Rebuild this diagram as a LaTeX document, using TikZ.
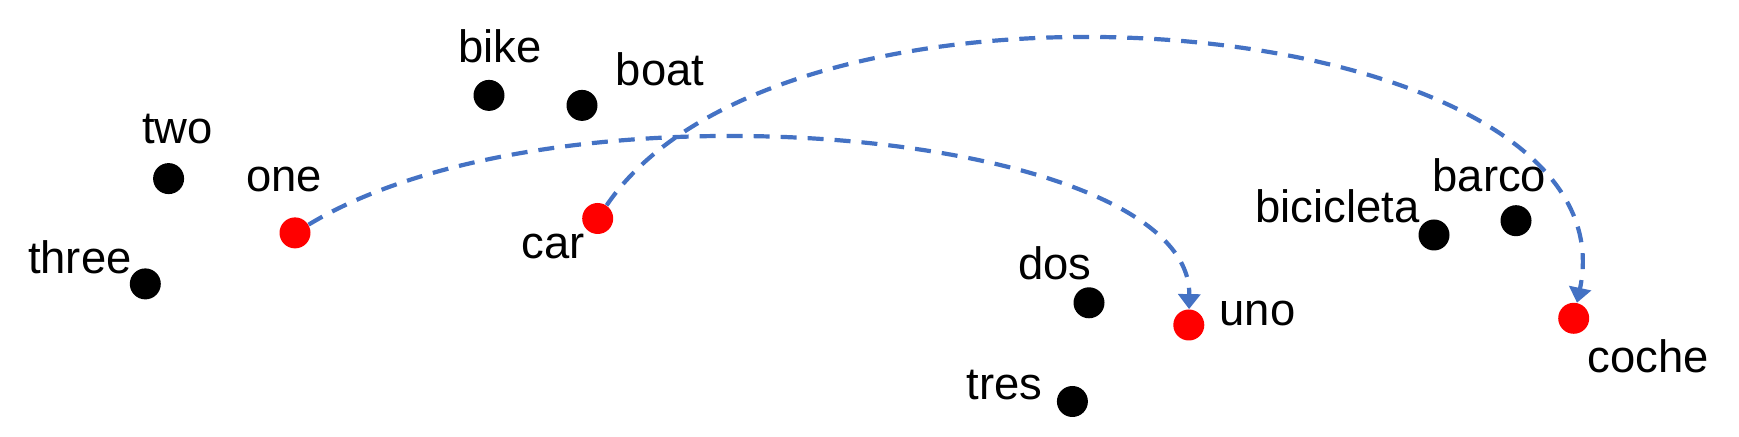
\documentclass[tikz,border=0pt]{standalone}
\usepackage{fontspec}
\setmainfont{Liberation Sans}
\usetikzlibrary{arrows.meta}
\definecolor{linkblue}{HTML}{4472C4}
\definecolor{dotred}{HTML}{FF0000}
\begin{document}
\begin{tikzpicture}[x=0.5pt,y=-0.5pt,
  dot/.style={circle,fill=black,inner sep=0pt,minimum size=15.5pt},
  reddot/.style={dot,fill=dotred},
  lbl/.style={font=\fontsize{22.7}{27}\selectfont,inner sep=0pt},
  link/.style={draw=linkblue,line width=2.1pt,dash pattern=on 8pt off 5.5pt,-{Triangle[length=7.5pt,width=11pt]}}]
\useasboundingbox (0,0) rectangle (1739,437);
% English
\node[dot] (two) at (168.6,178.6) {};
\node[lbl] (twol) at (177.4,128.6) {two};
\node[reddot] (one) at (295,232.9) {};
\node[lbl] (onel) at (283.9,179.7) {one};
\node[dot] (three) at (145.3,283.9) {};
\node[lbl] (threel) at (79.8,257.3) {three};
\node[dot] (bike) at (489,95.4) {};
\node[lbl] (bikel) at (500,46.6) {bike};
\node[dot] (boat) at (582,105.4) {};
\node[lbl] (boatl) at (660,68.8) {boat};
\node[reddot] (car) at (597.7,218.5) {};
\node[lbl] (carl) at (553.4,246.2) {car};
% Spanish
\node[dot] (dos) at (1089,302.8) {};
\node[lbl] (dosl) at (1054.7,262.8) {dos};
\node[reddot] (uno) at (1188.8,325) {};
\node[lbl] (unol) at (1257.6,313.9) {uno};
\node[dot] (tres) at (1072.4,401.5) {};
\node[lbl] (tresl) at (1004.8,384.8) {tres};
\node[dot] (bici) at (1434,235) {};
\node[lbl] (bicil) at (1337.5,206.3) {bicicleta};
\node[dot] (barco) at (1516,220.7) {};
\node[lbl] (barcol) at (1489.4,175.2) {barco};
\node[reddot] (coche) at (1573.7,318.3) {};
\node[lbl] (cochel) at (1648,356) {coche};
% links
\draw[link] (one) .. controls (560,72) and (1192,130) .. (uno);
\draw[link] (car) .. controls (790,-65) and (1639,10) .. (coche);
\end{tikzpicture}
\end{document}
